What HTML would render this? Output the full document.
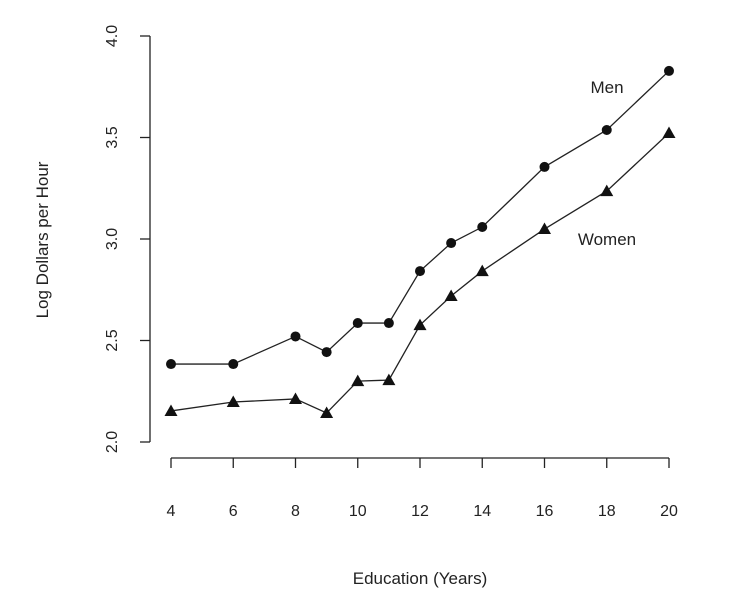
<!DOCTYPE html>
<html><head><meta charset="utf-8"><style>
html,body{margin:0;padding:0;background:#fff;}
svg text{font-family:"Liberation Sans",Arial,sans-serif;fill:#222;}
</style></head><body>
<svg id="chart" width="735" height="605" xmlns="http://www.w3.org/2000/svg">
<g id="axes"></g>
<g id="marks"></g>
<text x="420" y="584" font-size="17" text-anchor="middle">Education (Years)</text>
<text transform="translate(48,240) rotate(-90)" font-size="17" text-anchor="middle">Log Dollars per Hour</text>
<text x="607" y="93" font-size="17" text-anchor="middle">Men</text>
<text x="607" y="245" font-size="17" text-anchor="middle">Women</text>
</svg>
<script>
const years = [4,6,8,9,10,11,12,13,14,16,18,20];
const menValues = [2.384,2.384,2.52,2.443,2.586,2.586,2.842,2.98,3.059,3.355,3.537,3.828];
const womenValues = [2.153,2.197,2.212,2.143,2.30,2.305,2.576,2.719,2.842,3.049,3.236,3.522];
const xTicks = [4,6,8,10,12,14,16,18,20];
const yTicks = [2.0,2.5,3.0,3.5,4.0];
const yTickLabels = ["2.0","2.5","3.0","3.5","4.0"];

const NS="http://www.w3.org/2000/svg";
const xs = v => 171 + (v-4)*31.125;
const ys = v => 442 - (v-2)*203;
function mk(tag, attrs, parent){const e=document.createElementNS(NS,tag);for(const k in attrs)e.setAttribute(k,attrs[k]);parent.appendChild(e);return e;}
const axes=document.getElementById('axes'), marks=document.getElementById('marks');
let e=mk('line',{x1:150,y1:ys(4),x2:150,y2:ys(2),stroke:'#222','stroke-width':1.3},axes);


e=mk('line',{x1:xs(4),y1:458,x2:xs(20),y2:458,stroke:'#222','stroke-width':1.3},axes);


yTicks.forEach((t,i)=>{
  const y=ys(t);
  const l=mk('line',{x1:140,y1:y,x2:150,y2:y,stroke:'#222','stroke-width':1.3},axes);
  
  
  const tx=mk('text',{transform:`translate(117,${y}) rotate(-90)`,'font-size':16,'text-anchor':'middle'},axes);
  tx.textContent=yTickLabels[i];
  
  
});
xTicks.forEach(t=>{
  const x=xs(t);
  const l=mk('line',{x1:x,y1:458,x2:x,y2:468,stroke:'#222','stroke-width':1.3},axes);
  
  
  const tx=mk('text',{x:x,y:516,'font-size':16,'text-anchor':'middle'},axes);
  tx.textContent=String(t);
  
  
});
function series(vals,name,shape){
  const pts=years.map((yr,i)=>xs(yr)+','+ys(vals[i])).join(' ');
  const pl=mk('polyline',{points:pts,fill:'none',stroke:'#222','stroke-width':1.3},marks);
  
  
  years.forEach((yr,i)=>{
    const x=xs(yr),y=ys(vals[i]);
    let m;
    if(shape==='circle') m=mk('circle',{cx:x,cy:y,r:5,fill:'#111'},marks);
    else m=mk('polygon',{points:`${x},${y-6.5} ${x-6.5},${y+5} ${x+6.5},${y+5}`,fill:'#111'},marks);
    
    
  });
}
series(menValues,'men','circle');
series(womenValues,'women','triangle');
</script>
</body></html>
